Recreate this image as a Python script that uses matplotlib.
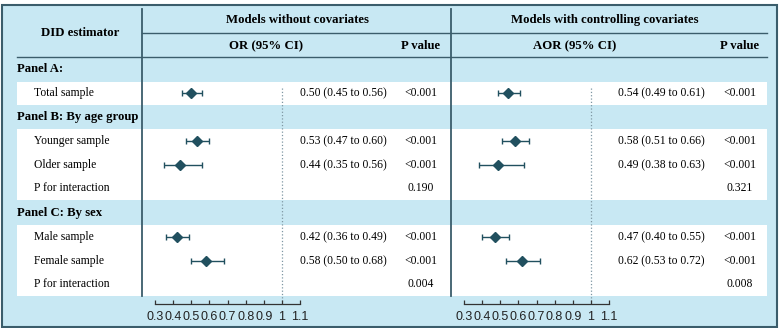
import matplotlib.pyplot as plt
from matplotlib.patches import Rectangle

# ---------------- data ----------------
row_labels = ["Total sample", "Younger sample", "Older sample", "P for interaction",
              "Male sample", "Female sample", "P for interaction"]
panel_labels = ["Panel A:", "Panel B: By age group", "Panel C: By sex"]

or_est = [0.50, 0.53, 0.44, None, 0.42, 0.58, None]
or_lo = [0.45, 0.47, 0.35, None, 0.36, 0.50, None]
or_hi = [0.56, 0.60, 0.56, None, 0.49, 0.68, None]
or_p = ["<0.001", "<0.001", "<0.001", "0.190", "<0.001", "<0.001", "0.004"]

aor_est = [0.54, 0.58, 0.49, None, 0.47, 0.62, None]
aor_lo = [0.49, 0.51, 0.38, None, 0.40, 0.53, None]
aor_hi = [0.61, 0.66, 0.63, None, 0.55, 0.72, None]
aor_p = ["<0.001", "<0.001", "<0.001", "0.321", "<0.001", "<0.001", "0.008"]

xticks = [0.3, 0.4, 0.5, 0.6, 0.7, 0.8, 0.9, 1.0, 1.1]
xticklabels = ["0.3", "0.4", "0.5", "0.6", "0.7", "0.8", "0.9", "1", "1.1"]

# ---------------- layout (pixels) ----------------
W, H = 780, 328
row_y = [93, 141, 165, 188, 237, 261, 284]       # centres of data rows
row_bands = [(82, 105), (129, 200), (225, 296)]   # white bands
panel_y = [69, 117, 213]

BG = "#c8e8f3"
DARK = "#3b5d6b"
MARK = "#21505f"
SERIF = "Liberation Serif"
SANS = "Liberation Sans"
FS = 8.4
FSB = 9.2

fig = plt.figure(figsize=(W / 100, H / 100), dpi=100)
ax0 = fig.add_axes([0, 0, 1, 1])
ax0.set_xlim(0, W)
ax0.set_ylim(H, 0)
ax0.axis("off")

# background + frame
ax0.add_patch(Rectangle((2, 5), 775, 322, facecolor=BG, edgecolor=DARK, lw=1.5, zorder=0))
for top, bot in row_bands:
    ax0.add_patch(Rectangle((17, top), 750, bot - top, facecolor="white", edgecolor="none", zorder=1))

# rules
ax0.plot([142, 767], [33, 33], color=DARK, lw=1, zorder=2)
ax0.plot([17, 767], [57, 57], color=DARK, lw=1, zorder=2)
for xv in (142, 451):
    ax0.plot([xv, xv], [9, 296], color=DARK, lw=1.3, zorder=2)

# header text
hd = dict(family=SERIF, fontsize=FSB, fontweight="bold", va="center", ha="center", zorder=3)
ax0.text(80, 33, "DID estimator", **hd)
ax0.text(297, 20, "Models without covariates", **hd)
ax0.text(605, 20, "Models with controlling covariates", **hd)
ax0.text(266, 46, "OR (95% CI)", **hd)
ax0.text(421, 46, "P value", **hd)
ax0.text(575, 46, "AOR (95% CI)", **hd)
ax0.text(740, 46, "P value", **hd)

for lab, y in zip(panel_labels, panel_y):
    ax0.text(17, y, lab, family=SERIF, fontsize=FSB, fontweight="bold", va="center", ha="left", zorder=3)

tx = dict(family=SERIF, fontsize=FS, va="center", zorder=3)
for i, y in enumerate(row_y):
    ax0.text(34, y, row_labels[i], ha="left", **tx)
    if or_est[i] is not None:
        ax0.text(343, y, "%.2f (%.2f to %.2f)" % (or_est[i], or_lo[i], or_hi[i]), ha="center", **tx)
        ax0.text(661, y, "%.2f (%.2f to %.2f)" % (aor_est[i], aor_lo[i], aor_hi[i]), ha="center", **tx)
    ax0.text(421, y, or_p[i], ha="center", **tx)
    ax0.text(740, y, aor_p[i], ha="center", **tx)


# ---------------- forest panels ----------------
def forest(x0, est, lo, hi):
    ax = fig.add_axes([x0 / W, (H - 304) / H, 145 / W, (304 - 82) / H])
    ax.set_facecolor("none")
    ax.set_xlim(0.3, 1.1)
    ax.set_ylim(304, 82)
    for s in ("left", "right", "top"):
        ax.spines[s].set_visible(False)
    ax.spines["bottom"].set_color("#333333")
    ax.spines["bottom"].set_linewidth(0.9)
    ax.set_yticks([])
    ax.set_xticks(xticks)
    ax.set_xticklabels(xticklabels, family=SANS, fontsize=9, color="#222222")
    ax.tick_params(axis="x", direction="in", length=3, width=0.9, pad=5, color="#333333")
    ax.plot([1, 1], [88, 304], ls=":", color="#7f97a3", lw=0.9, zorder=1)
    for i, y in enumerate(row_y):
        if est[i] is None:
            continue
        ax.errorbar(est[i], y, xerr=[[est[i] - lo[i]], [hi[i] - est[i]]], fmt="D",
                    color=MARK, ms=5.5, lw=1, capsize=2.5, capthick=1, zorder=3)
    return ax


forest(155, or_est, or_lo, or_hi)
forest(464, aor_est, aor_lo, aor_hi)

fig.savefig("out.png", dpi=100)
